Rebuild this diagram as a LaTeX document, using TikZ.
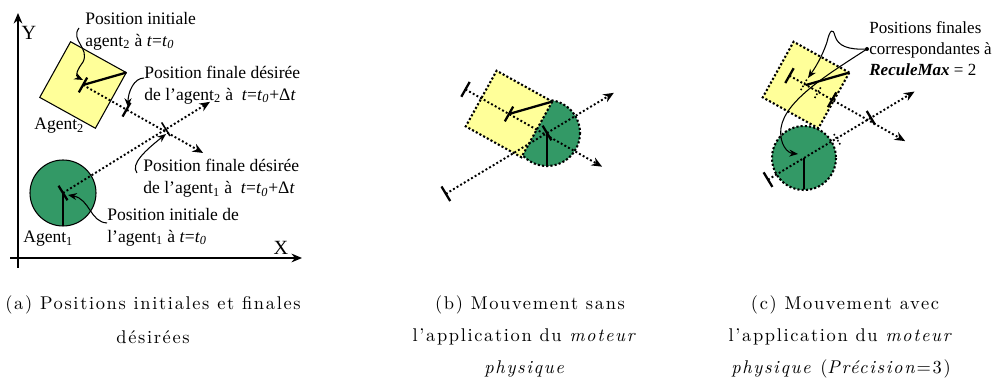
\documentclass[tikz,border=0pt]{standalone}
\usepackage{fontspec}
\newfontfamily\timesf{Liberation Serif}
\newfontfamily\capfont{lmroman10-regular}[Extension=.otf, ItalicFont=lmroman10-italic, LetterSpace=9]
\usetikzlibrary{arrows.meta,calc}
\definecolor{agyellow}{HTML}{FFFF99}
\definecolor{aggreen}{HTML}{339966}
\newcommand\agsq[2]{\path[#2] ($(#1)+(-16:45)$) -- ($(#1)+(74:45)$) -- ($(#1)+(164:45)$) -- ($(#1)+(254:45)$) -- cycle;}
\newcommand\agtick[5][tickl]{\draw[#1] ($(#2)+(#3:#4)+(#3+90:#5)$) -- ($(#2)+(#3:#4)+(#3-90:#5)$);}
\begin{document}
\begin{tikzpicture}[x=0.57pt,y=-0.57pt,
  dotpath/.style={line width=1.1pt, dash pattern=on 1.1pt off 1.3pt},
  dotborder/.style={line width=1.2pt, dash pattern=on 1.2pt off 1.2pt},
  dottick/.style={line width=0.9pt, dash pattern=on 0.9pt off 1.1pt},
  thickl/.style={line width=1.3pt},
  tickl/.style={line width=1.3pt},
  arr/.style={-{Stealth[length=6pt,width=5pt]}},
  axis/.style={line width=0.7pt,-{Stealth[length=6pt,width=5pt]}},
  annot/.style={line width=0.6pt,-{Stealth[length=5pt,width=4pt]}},
  lbl/.style={font=\timesf\fontsize{10}{12.5}\selectfont, inner sep=0pt, align=left, anchor=west},
  axl/.style={font=\timesf\fontsize{11.5}{12}\selectfont, inner sep=0pt},
  capt/.style={font=\capfont\fontsize{10.5}{12}\selectfont, inner sep=0pt, anchor=center},
]
\useasboundingbox (0,0) rectangle (996,385);

%================ panel (a) =================
\coordinate (xs) at (10,258); \coordinate (xe) at (302,258);
\coordinate (ys) at (18,268); \coordinate (ye) at (18,13);
\draw[axis] (xs) -- (xe);
\draw[axis] (ys) -- (ye);
\node[axl] (Ylab) at (29,33) {Y};
\node[axl] (Xlab) at (281,248) {X};

\coordinate (S2a) at (83,85);
\coordinate (C1a) at (63,193);
\agsq{S2a}{fill=agyellow, draw=black, line width=0.6pt}
\draw[fill=aggreen, line width=0.6pt] (C1a) circle[radius=33];
\draw[dotpath,arr] (S2a) -- ($(S2a)+(29.5:138)$);
\draw[dotpath,arr] (C1a) -- ($(C1a)+(-31.8:173)$);
\draw[thickl] (S2a) -- ($(S2a)+(-16:45)$);
\draw[thickl] (C1a) -- ($(C1a)+(90:33)$);
\agtick{S2a}{29.5}{0}{8.5}
\agtick{C1a}{-31.8}{0}{8.5}
\agtick{S2a}{29.5}{50}{8}
\agtick[line width=0.9pt]{C1a}{-31.8}{121}{8}

\node[lbl] (L1) at (85,31) {Position initiale\\agent\textsubscript{2} à \textit{t}=\textit{t}\textsubscript{\textit{0}}};
\node[lbl] (L2) at (144,85) {Position finale désirée\\de l’agent\textsubscript{2} à~~\textit{t}=\textit{t}\textsubscript{\textit{0}}+Δ\textit{t}};
\node[lbl] (L3) at (143,178.5) {Position finale désirée\\de l’agent\textsubscript{1} à~~\textit{t}=\textit{t}\textsubscript{\textit{0}}+Δ\textit{t}};
\node[lbl] (L4) at (107,227) {Position initiale de\\l’agent\textsubscript{1} à \textit{t}=\textit{t}\textsubscript{\textit{0}}};
\node[lbl] (A2) at (34,126) {Agent\textsubscript{2}};
\node[lbl] (A1) at (23,239) {Agent\textsubscript{1}};

\coordinate (a1s) at (79,28);   \coordinate (a1e) at (83,80);
\coordinate (a2s) at (144,78);  \coordinate (a2e) at (128,107);
\coordinate (a3s) at (137,173); \coordinate (a3e) at (166,134);
\coordinate (a4s) at (107,223); \coordinate (a4e) at (68,195);
\draw[annot] (a1s) .. controls (70,40) and (90,48) .. (83,62) .. controls (77,70) and (75,76) .. (a1e);
\draw[annot] (a2s) .. controls (134,78) and (128,92) .. (a2e);
\draw[annot] (a3s) .. controls (130,164) and (146,150) .. (a3e);
\draw[annot] (a4s) .. controls (90,222) and (90,199) .. (a4e);

%================ panel (b) =================
\coordinate (S2b) at (509,114);
\coordinate (C1b) at (547,133);
\coordinate (S2b0) at ($(S2b)+(209.5:50)$);
\coordinate (C1b0) at ($(C1b)+(149:118)$);
\draw[fill=aggreen, dotborder] (C1b) circle[radius=33];
\agsq{S2b}{fill=agyellow, draw=black, dotborder}
\draw[dotpath,arr] (S2b0) -- ($(S2b0)+(29.5:157)$);
\draw[dotpath,arr] (C1b0) -- ($(C1b0)+(-31:196)$);
\draw[thickl] (S2b) -- ($(S2b)+(-16:45)$);
\draw[thickl] (C1b) -- ($(C1b)+(90:33)$);
\agtick{S2b0}{29.5}{0}{8.5}
\agtick{C1b0}{-31}{0}{8.5}
\agtick{S2b}{29.5}{0}{8.5}
\agtick{C1b}{-31}{0}{8.5}

%================ panel (c) =================
\coordinate (S2c) at (806,85);
\coordinate (C1c) at (804,158);
\coordinate (S2c0) at ($(S2c)+(209.5:19)$);
\coordinate (C1c0) at ($(C1c)+(149:42)$);
\draw[fill=aggreen, dotborder] (C1c) circle[radius=32];
\agsq{S2c}{fill=agyellow, draw=black, dotborder}
\draw[dotpath,arr] (S2c0) -- ($(S2c0)+(29.5:133)$);
\draw[dotpath,arr] (C1c0) -- ($(C1c0)+(-31:171)$);
\draw[thickl] (S2c) -- ($(S2c)+(-16:45)$);
\draw[thickl] (C1c) -- ($(C1c)+(90:31)$);
\agtick{S2c0}{29.5}{0}{8.5}
\agtick{C1c0}{-31}{0}{8.5}
\agtick{S2c0}{29.5}{49}{8.5}
\agtick{C1c0}{-31}{120}{8}
\agtick[dottick]{S2c0}{29.5}{17}{7}
\agtick[dottick]{S2c0}{29.5}{33}{7}
\agtick[dottick]{C1c0}{-31}{80}{7}

\node[lbl, font=\timesf\fontsize{9.7}{12}\selectfont] (L5) at (869,49) {Positions finales\\correspondantes à\\\textbf{\textit{ReculeMax}} = 2};
\coordinate (dotc) at (867,49);
\fill (dotc) circle[radius=2];
\coordinate (c1e) at (808,78);
\coordinate (c2e) at (798,154);
\draw[annot] (dotc) .. controls (848,50) and (838,46) .. (835,36) .. controls (833,28) and (830,29) .. (827,42) .. controls (822,57) and (815,68) .. (c1e);
\draw[annot] (dotc) .. controls (830,73) and (785,100) .. (781,128) .. controls (779,145) and (788,153) .. (c2e);

%================ captions =================
\node[capt] (ca1) at (153,305) {(a) Positions initiales et finales};
\node[capt] (ca2) at (153,337) {désirées};
\node[capt] (cb1) at (530,305) {(b) Mouvement sans};
\node[capt] (cb2) at (525,337) {l’application du \textit{moteur}};
\node[capt] (cb3) at (525,369) {\textit{physique}};
\node[capt] (cc1) at (845,305) {(c) Mouvement avec};
\node[capt] (cc2) at (841,337) {l’application du \textit{moteur}};
\node[capt] (cc3) at (841,369) {\textit{physique} (\textit{Précision}=3)};
\end{tikzpicture}
\end{document}
